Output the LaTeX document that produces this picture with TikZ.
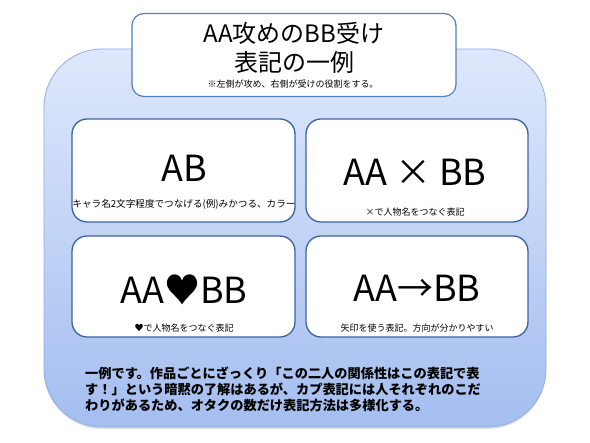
\documentclass[tikz,border=0pt]{standalone}
\usepackage{fontspec}
\setmainfont{Noto Sans CJK JP}
\usetikzlibrary{shadows}
\definecolor{bgtop}{HTML}{DEE8FC}
\definecolor{bgbot}{HTML}{A4BEF0}
\definecolor{bgline}{HTML}{8FAEDF}
\definecolor{boxline}{HTML}{3A64A0}
\definecolor{titleline}{HTML}{4F81BD}
\tikzset{
  panel/.style={draw=boxline, line width=1.3pt, fill=white, rounded corners=15pt},
  bigtext/.style={font=\fontsize{36}{40}\selectfont, inner sep=0pt},
  captext/.style={font=\fontsize{9}{11}\selectfont, inner sep=0pt},
  bodytext/.style={font=\fontsize{13.2}{16}\selectfont\bfseries, inner sep=0pt, anchor=west},
}
\begin{document}
\begin{tikzpicture}[x=1pt,y=-1pt]
\useasboundingbox (0,0) rectangle (590,443);
% background panel
\path[drop shadow={opacity=0.25, shadow xshift=0pt, shadow yshift=-2pt},
      top color=bgtop, bottom color=bgbot, draw=bgline, line width=0.8pt,
      rounded corners=58pt] (44,49) rectangle (546,427);
% title box
\node[draw=titleline, line width=1.2pt, fill=white, rounded corners=12pt,
      minimum width=324pt, minimum height=83pt, inner sep=0pt] (title) at (294,55) {};
\node[font=\fontsize{24}{28}\selectfont, inner sep=0pt] (t1) at (294,33) {AA攻めのBB受け};
\node[font=\fontsize{24}{28}\selectfont, inner sep=0pt] (t2) at (294,62) {表記の一例};
\node[font=\fontsize{9}{11}\selectfont, inner sep=0pt] (t3) at (293,84) {※左側が攻め、右側が受けの役割をする。};
% four panels
\node[panel, minimum width=223pt, minimum height=103pt, inner sep=0pt] (p1) at (183.5,170.5) {};
\node[panel, minimum width=222pt, minimum height=103pt, inner sep=0pt] (p2) at (417,170.5) {};
\node[panel, minimum width=223pt, minimum height=101pt, inner sep=0pt] (p3) at (183.5,286.5) {};
\node[panel, minimum width=222pt, minimum height=101pt, inner sep=0pt] (p4) at (417,286.5) {};
\node[bigtext] (l1) at (184,168) {AB};
\node[captext, font=\fontsize{9.6}{11}\selectfont] (c1) at (184,204) {キャラ名2文字程度でつなげる(例)みかつる、カラー};
\node[bigtext] (l2) at (415,172) {AA × BB};
\node[captext] (c2) at (415,212) {×で人物名をつなぐ表記};
\node[bigtext] (l3) at (184,290) {AA♥BB};
\node[captext] (c3) at (184,328) {♥で人物名をつなぐ表記};
\node[bigtext] (l4) at (417,288) {AA→BB};
\node[captext] (c4) at (417,328) {矢印を使う表記。方向が分かりやすい};
% body text
\node[bodytext] (b1) at (85,373) {一例です。作品ごとにざっくり「この二人の関係性はこの表記で表};
\node[bodytext] (b2) at (85,389) {す！」という暗黙の了解はあるが、カプ表記には人それぞれのこだ};
\node[bodytext] (b3) at (85,405) {わりがあるため、オタクの数だけ表記方法は多様化する。};
\end{tikzpicture}
\end{document}
